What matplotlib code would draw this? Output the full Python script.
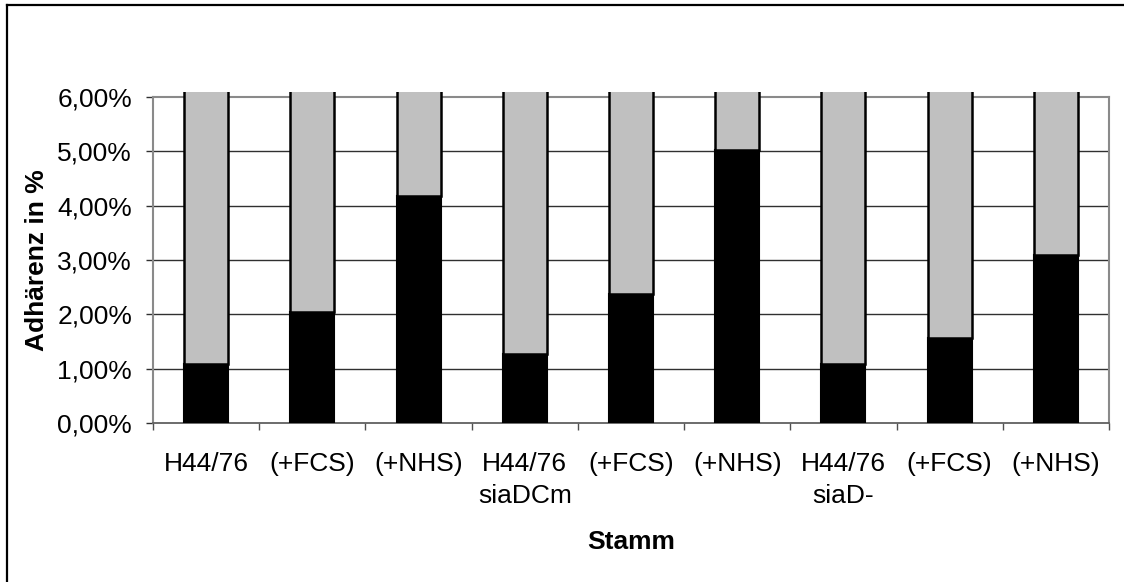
import matplotlib
matplotlib.use("Agg")
import matplotlib.pyplot as plt
from matplotlib.patches import Rectangle
from matplotlib.lines import Line2D
from matplotlib.ticker import FuncFormatter, FixedLocator

plt.rcParams['font.family'] = ['Liberation Sans', 'DejaVu Sans']

# Data (percent)
labels_line1 = ["H44/76", "(+FCS)", "(+NHS)", "H44/76", "(+FCS)", "(+NHS)", "H44/76", "(+FCS)", "(+NHS)"]
labels_line2 = ["", "", "", "siaDCm", "", "", "siaD-", "", ""]
adherent = [1.08, 2.05, 4.18, 1.27, 2.37, 5.03, 1.08, 1.57, 3.10]
non_adherent = [98.92, 97.95, 95.82, 98.73, 97.63, 94.97, 98.92, 98.43, 96.90]
yticks = [0, 1, 2, 3, 4, 5, 6]

FS = 19
W, H = 1124, 582
fig = plt.figure(figsize=(W / 100, H / 100), dpi=100)
ax_l, ax_r, ax_t, ax_b = 153, 1109, 97, 423
ax = fig.add_axes([ax_l / W, (H - ax_b) / H, (ax_r - ax_l) / W, (ax_b - ax_t) / H])

n = len(adherent)
x = list(range(n))
bw = 0.415
ax.set_xlim(-0.5, n - 0.5)
ax.set_ylim(0, 6)

# bars may overshoot the top of the plot area slightly
clip = Rectangle((0, 0), 1, 1 + 5 / (ax_b - ax_t), transform=ax.transAxes, visible=False)
ax.add_patch(clip)

b1 = ax.bar(x, adherent, width=bw, color="black", edgecolor="black", linewidth=1.5, zorder=3)
b2 = ax.bar(x, non_adherent, width=bw, bottom=adherent, color="#C0C0C0",
            edgecolor="black", linewidth=1.8, zorder=3)
for p in list(b1) + list(b2):
    p.set_clip_path(clip)

# grid and frame
for v in yticks[1:-1]:
    ax.axhline(v, color="#303030", linewidth=1.0, zorder=1)
for s in ["top", "right", "left"]:
    ax.spines[s].set_color("#8a8a8a")
    ax.spines[s].set_linewidth(1.5)
ax.spines["bottom"].set_color("#606060")
ax.spines["bottom"].set_linewidth(1.3)
ax.spines["top"].set_zorder(2)

ax.set_yticks(yticks)
ax.yaxis.set_major_formatter(FuncFormatter(lambda v, p: f"{v:.2f}%".replace(".", ",")))
ax.tick_params(axis="y", length=5, width=1, color="#303030", pad=10, labelsize=FS)

ax.xaxis.set_major_locator(FixedLocator([i - 0.5 for i in range(n + 1)]))
ax.set_xticklabels([])
ax.tick_params(axis="x", length=5, width=1, color="#505050", direction="out")

xt = ax.get_xaxis_transform()
h = ax_b - ax_t
for i in range(n):
    ax.text(i, (ax_b - 471) / h, labels_line1[i], transform=xt, ha="center", va="baseline", fontsize=FS)
    if labels_line2[i]:
        ax.text(i, (ax_b - 503) / h, labels_line2[i], transform=xt, ha="center", va="baseline", fontsize=FS)

fig.text((ax_l + ax_r) / 2 / W, (H - 549) / H, "Stamm",
         ha="center", va="baseline", fontsize=FS, fontweight="bold")
fig.text(37 / W, (H - (ax_t + ax_b) / 2) / H, "Adhärenz in %", rotation=90,
         ha="center", va="center", fontsize=FS, fontweight="bold")

# outer frame (top and left edges)
fig.add_artist(Line2D([7 / W, 1], [1 - 5 / H, 1 - 5 / H], transform=fig.transFigure,
                      color="black", linewidth=1.6))
fig.add_artist(Line2D([7 / W, 7 / W], [0, 1 - 5 / H], transform=fig.transFigure,
                      color="black", linewidth=1.6))

fig.savefig("out.png", dpi=100)
